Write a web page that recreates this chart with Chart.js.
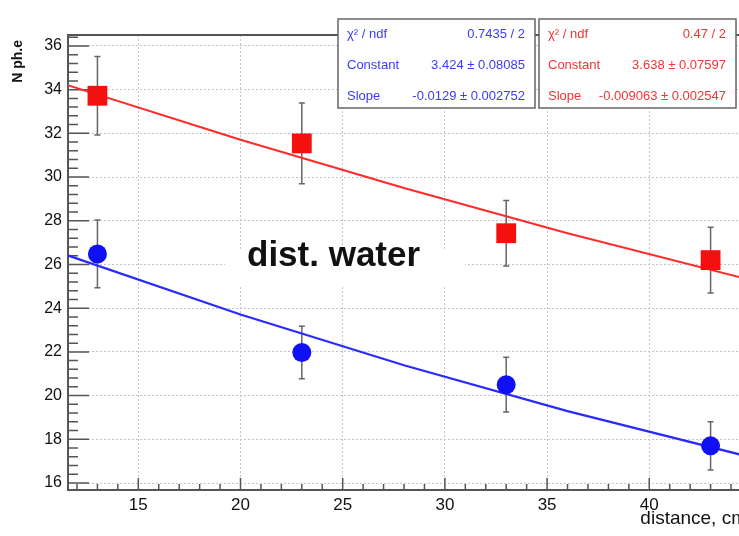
<!DOCTYPE html>
<html>
<head>
<meta charset="utf-8">
<script src="https://cdn.jsdelivr.net/npm/chart.js@4.4.1/dist/chart.umd.min.js"></script>
<style>
  body { margin: 0; background: #fff; overflow: hidden; }
  #wrap { width: 739px; height: 536px; }
  canvas { width: 739px; height: 536px; }
</style>
</head>
<body>
<div id="wrap"><canvas id="myChart" width="739" height="536"></canvas></div>
<script>
const ctx = document.getElementById("myChart").getContext("2d");

// measured points
const distances = [13, 23, 33, 43];
const redValues = [33.72, 31.54, 27.43, 26.2];
const redErrors = [1.8, 1.85, 1.5, 1.5];
const blueValues = [26.48, 21.97, 20.5, 17.7];
const blueErrors = [1.55, 1.2, 1.25, 1.1];

// fit curves
const fitX = [11.5, 20, 28, 36, 44.5];
const redFit = [34.22, 31.71, 29.5, 27.43, 25.4];
const blueFit = [26.43, 23.71, 21.39, 19.29, 17.29];

// axes
const xTicks = [15, 20, 25, 30, 35, 40];
const yTicks = [16, 18, 20, 22, 24, 26, 28, 30, 32, 34, 36];

const blueStats = [["χ² / ndf", "0.7435 / 2"], ["Constant", "3.424 ± 0.08085"], ["Slope", "-0.0129 ± 0.002752"]];
const redStats = [["χ² / ndf", "0.47 / 2"], ["Constant", "3.638 ± 0.07597"], ["Slope", "-0.009063 ± 0.002547"]];

const pts = (xs, ys) => xs.map((x, i) => ({ x: x, y: ys[i] }));

const FONT = "'Liberation Sans', Arial, sans-serif";

const rootStyle = {
    id: "rootStyle",
    beforeDatasetsDraw(chart) {
        const { ctx, chartArea: a, scales: { x, y } } = chart;
        ctx.save();
        // white pad behind the label
        ctx.fillStyle = "#fff";
        ctx.fillRect(225, 250, 240, 37);

        // inner ticks
        ctx.strokeStyle = "#555";
        ctx.lineWidth = 1.5;
        ctx.beginPath();
        for (let i = 39; i <= 91; i++) {
            const py = y.getPixelForValue(i * 0.4);
            if (py < a.top || py > a.bottom) continue;
            const len = i % 5 === 0 ? 21 : 10;
            ctx.moveTo(a.left, py);
            ctx.lineTo(a.left + len, py);
        }
        for (let v = 12; v <= 44; v++) {
            const px = x.getPixelForValue(v);
            const len = v % 5 === 0 ? 12 : 6;
            ctx.moveTo(px, a.bottom);
            ctx.lineTo(px, a.bottom - len);
        }
        ctx.stroke();

        // frame (right side lies outside the picture)
        ctx.lineWidth = 2;
        ctx.strokeStyle = "#555";
        ctx.beginPath();
        ctx.moveTo(a.right + 10, a.top);
        ctx.lineTo(a.left, a.top);
        ctx.lineTo(a.left, a.bottom);
        ctx.lineTo(a.right + 10, a.bottom);
        ctx.stroke();

        // error bars
        ctx.strokeStyle = "#666";
        ctx.lineWidth = 1.5;
        const bars = (vals, errs) => {
            distances.forEach((d, i) => {
                const px = x.getPixelForValue(d);
                const top = y.getPixelForValue(vals[i] + errs[i]);
                const bot = y.getPixelForValue(vals[i] - errs[i]);
                ctx.beginPath();
                ctx.moveTo(px, top); ctx.lineTo(px, bot);
                ctx.moveTo(px - 3, top); ctx.lineTo(px + 3, top);
                ctx.moveTo(px - 3, bot); ctx.lineTo(px + 3, bot);
                ctx.stroke();
            });
        };
        bars(redValues, redErrors);
        bars(blueValues, blueErrors);
        ctx.restore();
    },
    afterDatasetsDraw(chart) {
        const { ctx } = chart;
        ctx.save();
        // label
        ctx.fillStyle = "#111";
        ctx.font = "bold 35px " + FONT;
        ctx.textBaseline = "alphabetic";
        ctx.textAlign = "left";
        ctx.fillText("dist. water", 247, 266);

        // stat boxes
        const box = (left, right, color, rows) => {
            ctx.fillStyle = "#fff";
            ctx.fillRect(left, 19, right - left, 89);
            ctx.strokeStyle = "#666";
            ctx.lineWidth = 1.5;
            ctx.strokeRect(left, 19, right - left, 89);
            ctx.fillStyle = color;
            ctx.font = "13px " + FONT;
            ctx.textBaseline = "middle";
            rows.forEach((r, i) => {
                const ty = 34 + i * 31;
                ctx.textAlign = "left";
                ctx.fillText(r[0], left + 9, ty);
                ctx.textAlign = "right";
                ctx.fillText(r[1], right - 10, ty);
            });
        };
        box(338, 535, "#3b3bf5", blueStats);
        box(539, 736, "#ee3535", redStats);

        // axis titles, ROOT style (right aligned)
        ctx.fillStyle = "#111";
        ctx.font = "bold 14px " + FONT;
        ctx.textBaseline = "middle";
        ctx.save();
        ctx.translate(18, 40);
        ctx.rotate(-Math.PI / 2);
        ctx.textAlign = "right";
        ctx.fillText("N ph.e", 0, 0);
        ctx.restore();
        ctx.font = "19px " + FONT;
        ctx.textAlign = "right";
        ctx.fillText("distance, cm", 747, 519);
        ctx.restore();
    }
};

const data = {
    datasets: [
        {
            type: "scatter",
            data: pts(distances, redValues),
            pointStyle: "rect",
            pointRadius: 14,
            backgroundColor: "#f51010",
            borderWidth: 0,
            order: 0
        },
        {
            type: "scatter",
            data: pts(distances, blueValues),
            pointStyle: "circle",
            pointRadius: 9.5,
            backgroundColor: "#1010f5",
            borderWidth: 0,
            order: 0
        },
        {
            type: "line",
            data: pts(fitX, redFit),
            borderColor: "#ff2a2a",
            borderWidth: 2,
            pointRadius: 0,
            tension: 0,
            order: 1
        },
        {
            type: "line",
            data: pts(fitX, blueFit),
            borderColor: "#2a2aff",
            borderWidth: 2.2,
            pointRadius: 0,
            tension: 0,
            order: 1
        }
    ]
};

const config = {
    type: "scatter",
    data: data,
    options: {
        responsive: false,
        animation: false,
        devicePixelRatio: 1,
        layout: { autoPadding: false, padding: { top: 35, right: 0, left: 0, bottom: 0 } },
        plugins: { legend: { display: false }, tooltip: { enabled: false } },
        scales: {
            x: {
                type: "linear",
                min: 11.56,
                max: 44.39,
                afterBuildTicks: (s) => { s.ticks = xTicks.map(v => ({ value: v })); },
                afterFit: (s) => { s.height = 46; s.paddingLeft = 0; s.paddingRight = 0; },
                ticks: { color: "#111", font: { family: FONT, size: 17 }, padding: 5, maxRotation: 0 },
                grid: { color: "#c4c4c4", lineWidth: 1, drawTicks: false },
                border: { display: false, dash: [2, 2] }
            },
            y: {
                type: "linear",
                min: 15.68,
                max: 36.5,
                afterBuildTicks: (s) => { s.ticks = yTicks.map(v => ({ value: v })); },
                afterFit: (s) => { s.width = 68; s.paddingTop = 0; s.paddingBottom = 0; },
                ticks: { color: "#111", font: { family: FONT, size: 16 }, padding: 6 },
                grid: { color: "#c4c4c4", lineWidth: 1, drawTicks: false },
                border: { display: false, dash: [2, 2] }
            }
        }
    },
    plugins: [rootStyle]
};

let myChart = new Chart(ctx, config);
</script>
</body>
</html>
